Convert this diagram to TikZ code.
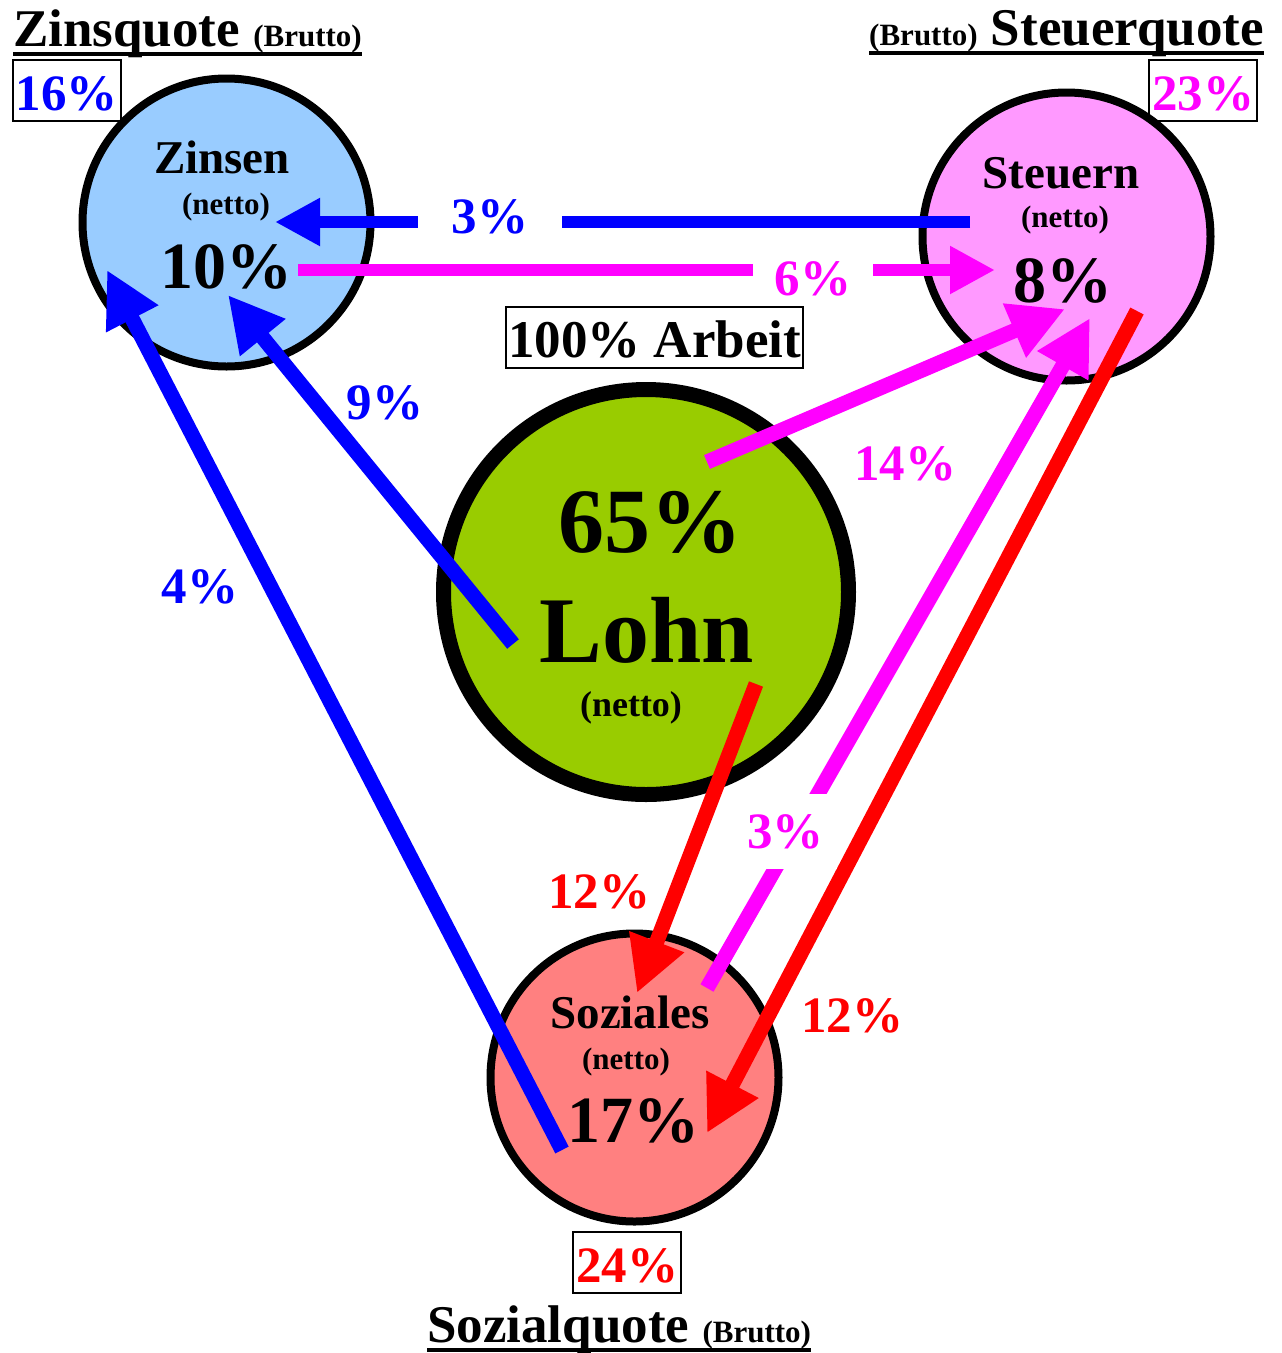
\documentclass[tikz,border=0pt]{standalone}
\usepackage{fontspec}
\setmainfont{Liberation Serif}
\usetikzlibrary{arrows.meta,calc}

\definecolor{zinsblau}{HTML}{99CCFF}
\definecolor{steuerrosa}{HTML}{FF99FF}
\definecolor{sozialrot}{HTML}{FF8080}
\definecolor{lohngruen}{HTML}{99CC00}
\definecolor{lila}{RGB}{255,0,255}
\newcommand{\schrift}[1]{\fontsize{#1}{#1}\selectfont}

\begin{document}
\begin{tikzpicture}
		[x=1pt,y=-1pt,every node/.style={font=\bfseries,inner sep=0pt},
		topf/.style={circle,draw=black,line width=8pt,minimum size=288pt},
		quelle/.style={circle,draw=black,line width=15pt,minimum size=405pt,fill=lohngruen},
		quote/.style={draw=black,line width=1.5pt,inner xsep=3pt,text height=50pt,text depth=11pt,font=\bfseries\schrift{51},anchor=base},
		pct/.style={font=\bfseries\schrift{51},anchor=base},
		luecke/.style={fill=white,inner ysep=3pt},
		fluss/.style={line width=15pt,-{Triangle[length=55pt,width=55pt]}},
		quer/.style={line width=12pt,-{Triangle[length=45pt,width=45pt]}}]
		\useasboundingbox (0,0) rectangle (1282,1353);
		
		% Kreise
		\node[topf,fill=zinsblau] (zins) at (226.5,222.5) {};
		\node[topf,fill=steuerrosa] (steuer) at (1066.5,236.5) {};
		\node[topf,fill=sozialrot] (sozial) at (634.5,1077.5) {};
		\node[quelle] (lohn) at (646,592) {};
		
		\node[anchor=base,font=\bfseries\schrift{47}] (zins-name) at (222,173) {Zinsen};
		\node[anchor=base,font=\bfseries\schrift{31}] (zins-netto) at (226,214) {(netto)};
		\node[anchor=base,font=\bfseries\schrift{66}] (zins-wert) at (226,288) {10\%};
		\node[anchor=base,font=\bfseries\schrift{47}] (steuer-name) at (1061,188) {Steuern};
		\node[anchor=base,font=\bfseries\schrift{31}] (steuer-netto) at (1065,227) {(netto)};
		\node[anchor=base,font=\bfseries\schrift{66}] (steuer-wert) at (1063,302) {8\%};
		\node[anchor=base,font=\bfseries\schrift{47}] (sozial-name) at (630,1028) {Soziales};
		\node[anchor=base,font=\bfseries\schrift{31}] (sozial-netto) at (626,1069) {(netto)};
		\node[anchor=base,font=\bfseries\schrift{66}] (sozial-wert) at (633,1142) {17\%};
		\node[anchor=base,font=\bfseries\schrift{92}] (lohn-wert) at (650,552) {65\%};
		\node[anchor=base,font=\bfseries\schrift{94}] (lohn-name) at (647,662) {Lohn};
		\node[anchor=base,font=\bfseries\schrift{36}] (lohn-netto) at (631,716) {(netto)};
		
		% Quoten
		\node[anchor=base west] (zq) at (13,46) {\schrift{53}Zinsquote \schrift{31}(Brutto)};
		\node[anchor=base east] (sq) at (1264,45) {\schrift{31}(Brutto)\schrift{53} Steuerquote};
		\node[anchor=base west] (soq) at (427,1342) {\schrift{53}Sozialquote \schrift{31}(Brutto)};
		\foreach \q in {zq,sq,soq}
		\draw[line width=4pt] ([yshift=-8pt]\q.base west) -- ([yshift=-8pt]\q.base east);
		
		\node[quote,text=blue] (zq-wert) at (67,110) {16\%};
		\node[quote,text=lila] (sq-wert) at (1203,110) {23\%};
		\node[quote,text=red] (soq-wert) at (627,1282) {24\%};
		\node[quote,inner xsep=2pt,font=\bfseries\schrift{53}] (arbeit) at (654.5,357) {100\% Arbeit};
		
		% Fluesse
		\draw[quer,blue] ($(steuer)+(-96.5,-14.5)$) -- ($(zins)+(48.5,-0.5)$);
		\draw[quer,lila] ($(zins)+(71.5,47.5)$) -- ($(steuer)+(-71.5,33.5)$);
		\draw[fluss,blue] ($(lohn)+(-133,52)$) -- ($(zins)+(1.5,72.5)$);
		\draw[fluss,blue] ($(sozial)+(-72.5,72.5)$) -- ($(zins)+(-119.5,47.5)$);
		\draw[fluss,lila] ($(lohn)+(61,-130)$) -- ($(steuer)+(-1.5,72.5)$);
		\draw[fluss,lila] ($(sozial)+(72.5,-89.5)$) -- ($(steuer)+(23.5,81.5)$);
		\draw[fluss,red] ($(lohn)+(110,92)$) -- ($(sozial)+(2.5,-84.5)$);
		\draw[fluss,red] ($(steuer)+(70.5,74.5)$) -- ($(sozial)+(72.5,55.5)$);
		
		\node[pct,luecke,text=blue,inner xsep=34pt] (p-zs) at (490,233) {3\%};
		\node[pct,luecke,text=lila,inner xsep=22pt] (p-zst) at (813,295) {6\%};
		\node[pct,luecke,text=lila,inner xsep=13pt,inner ysep=20pt] (p-sost) at (785.5,848) {3\%};
		\node[pct,text=blue] (p-lz) at (385,419) {9\%};
		\node[pct,text=blue] (p-soz) at (200,603) {4\%};
		\node[pct,text=lila] (p-lst) at (905,480) {14\%};
		\node[pct,text=red] (p-lso) at (599,908) {12\%};
		\node[pct,text=red] (p-stso) at (852,1032) {12\%};
		\end{tikzpicture}
\end{document}
